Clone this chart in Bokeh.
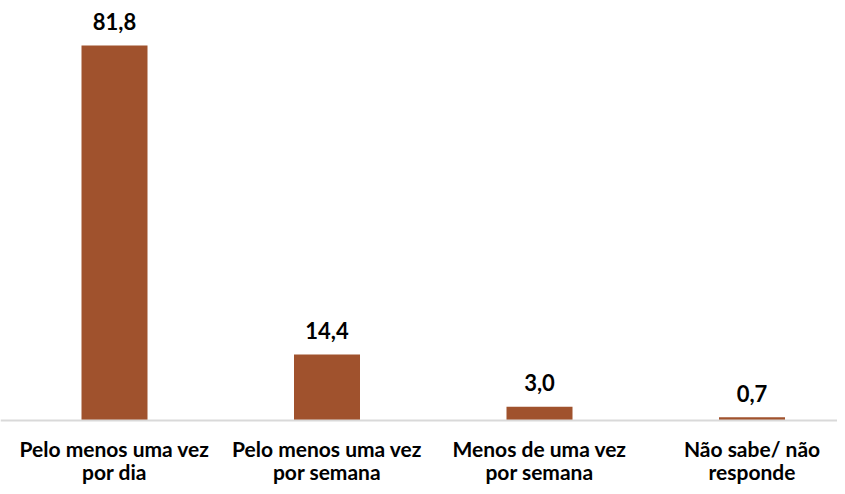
from bokeh.plotting import figure
from bokeh.models import ColumnDataSource, Range1d, Span
from bokeh.core.properties import value
from bokeh.embed import file_html
from bokeh.resources import INLINE

categories_line1 = ["Pelo menos uma vez", "Pelo menos uma vez", "Menos de uma vez", "Não sabe/ não"]
categories_line2 = ["por dia", "por semana", "por semana", "responde"]
values = [81.8, 14.4, 3.0, 0.7]
value_labels = ["81,8", "14,4", "3,0", "0,7"]

PX = 4.584      # pixels per unit (y)
BASE = 420      # baseline pixel position inside figure
STEP = 212.5    # pixels per category
X0 = 114 - 0.5 * STEP
W, H = 837, 486
xs = [i + 0.5 for i in range(len(values))]
src = ColumnDataSource(dict(
    x=xs, top=values, lab=value_labels,
    l1=categories_line1, l2=categories_line2,
    y1=[-(448 - BASE) / PX] * len(values), y2=[-(471 - BASE) / PX] * len(values),
))

p = figure(width=W, height=H, output_backend="svg", toolbar_location=None,
           x_range=Range1d(-X0 / STEP, (W - X0) / STEP),
           y_range=Range1d(-(H - BASE) / PX, BASE / PX),
           min_border=0, min_border_left=0, min_border_right=0,
           min_border_top=0, min_border_bottom=0)
p.axis.visible = False
p.grid.visible = False
p.outline_line_color = None
p.background_fill_color = "white"

p.vbar(x="x", top="top", bottom=0, width=66 / STEP, source=src,
       fill_color="#A0522D", line_color=None)
p.add_layout(Span(location=0, dimension="width", line_color="#D9D9D9", line_width=2))

font = value("Lato")
p.text(x="x", y="top", text="lab", source=src, text_font=font, text_font_style="bold",
       text_font_size="22px", text_align="center", text_baseline="middle",
       y_offset=-24, text_color="#000000")
p.text(x="x", y="y1", text="l1", source=src, text_font=font, text_font_style="bold",
       text_font_size="21px", text_align="center", text_baseline="middle", text_color="#000000")
p.text(x="x", y="y2", text="l2", source=src, text_font=font, text_font_style="bold",
       text_font_size="21px", text_align="center", text_baseline="middle", text_color="#000000")

open("out.html", "w").write(file_html(p, INLINE))
